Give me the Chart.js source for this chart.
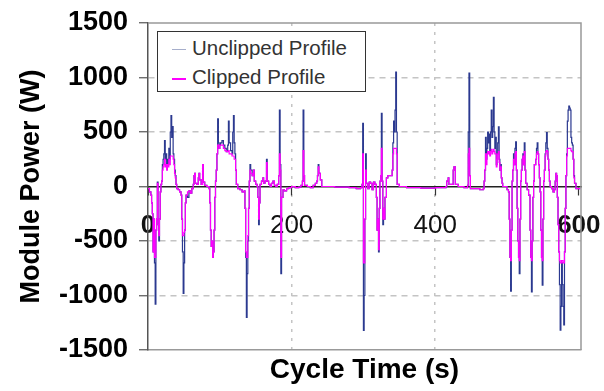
<!DOCTYPE html>
<html>
<head>
<meta charset="utf-8">
<script src="https://cdn.jsdelivr.net/npm/chart.js@4.4.1/dist/chart.umd.min.js"></script>
<style>
  body { margin: 0; background: #fff; }
  #wrap { position: relative; width: 604px; height: 391px; }
  #legend {
    position: absolute; left: 157px; top: 31px; width: 209px; height: 61px;
    box-sizing: border-box; border: 1.5px solid #333; background: #fff;
    padding-top: 1px;
    font: 20.5px "Liberation Sans", Arial, sans-serif; color: #333;
  }
  #legend .row { height: 29px; line-height: 29px; white-space: nowrap; }
  #legend .swatch {
    display: inline-block; width: 14px; vertical-align: middle;
    margin-left: 14px; margin-right: 6px;
  }
</style>
</head>
<body>
<div id="wrap">
  <canvas id="powerChart" width="604" height="391"></canvas>
  <div id="legend"></div>
</div>
<script>
// 時間 (s) 與模組功率 (W)：未削峰 / 削峰後
const timeS = [
  0, 2, 4, 5, 6, 7, 8, 9, 10, 11, 12, 13, 14, 15, 16, 17, 18, 19, 20, 21, 22, 23, 24, 25, 26, 27, 28, 29, 30, 31, 32, 33, 34, 35, 36, 37, 38, 39,
  40, 42, 44, 46, 47, 48, 49, 50, 51, 52, 53, 55, 57, 59, 61, 63, 64, 65, 66, 68, 70, 71, 72, 74, 76, 77, 79, 82, 85, 86, 87, 88, 89, 90, 91, 92, 93, 94, 95, 96, 97, 98, 99,
  100, 101, 103, 105, 107, 109, 111, 112, 113, 115, 117, 118, 119, 120, 121, 122, 123, 125, 128, 131, 134, 135, 136, 137, 138, 139, 140, 141, 142, 143, 145, 147, 148, 150, 152, 153, 154, 155, 156, 158, 160, 161, 163, 165, 166, 168, 170, 172, 174, 176, 178, 180, 182, 183, 184, 185, 186, 188, 190, 193, 196,
  200, 205, 210, 213, 215, 216, 217, 218, 222, 226, 230, 233, 235, 236, 237, 238, 240, 242, 260, 280, 290, 296, 298, 299,
  300, 301, 302, 303, 304, 306, 308, 310, 312, 314, 316, 318, 319, 320, 321, 322, 323, 324, 325, 326, 327, 328, 329, 330, 332, 334, 338, 340, 341, 342, 343, 344, 345, 346, 347, 350, 360, 380,
  400, 415, 416, 418, 419, 424, 425, 426, 428, 432, 440, 445, 446, 447, 448, 449, 455, 462, 467, 468, 469, 470, 471, 472, 473, 474, 475, 476, 477, 478, 479, 480, 481, 482, 483, 484, 485, 486, 487, 488, 489, 490, 491, 492, 493, 494,
  500, 502, 503, 504, 505, 506, 507, 508, 509, 510, 511, 512, 513, 514, 515, 516, 517, 518, 519, 520, 521, 522, 523, 524, 525, 526, 528, 530, 532,
  533, 534, 535, 536, 537, 538, 540, 541, 542, 543, 544, 545, 546, 547, 548, 549, 550, 551, 552, 553, 554, 555, 556, 557, 558, 559, 560, 562, 564, 566,
  567, 568, 569, 570, 571, 572, 573, 574, 575, 576, 577, 578, 579, 580, 581, 582, 583, 584, 585, 586, 587, 588, 589, 590, 591, 592, 593, 594, 596, 600, 602
];

const unclippedW = [
  -20, -50, -80, -150, -250, -600, -300, -700, -1080, -400, -300, 40, -350, -500, -300, -50, 20, 50, 200, 250, 300, 420, 250, 300, 200, 250, 200, 350, 250, 500, 650, 450, 550, 300, 250, 150, 100, 20,
  -20, -30, -50, -80, -300, -600, -980, -700, -400, -150, -80, -100, -40, -60, -20, 20, 100, 120, 30, 20, 80, 120, 60, 20, 200, 40, 10, 0, -20, -150, -400, -550, -500, -650, -600, -400, -100, 50, 150, 300, 620, 400, 350,
  380, 400, 420, 380, 350, 320, 380, 600, 400, 330, 300, 500, 650, 400, 300, 150, 20, -20, -30, -50, -40, -200, -650, -1200, -800, -500, -200, 50, 200, 150, 100, 150, 50, 20, 0, -100, -350, -150, 20, 50, 80, 30, 50, 250, 50, 20, 0, 30, 50, 10, 0, 20, 100, 700, 200, -800, -100, -30, -40, -20, -10,
  0, -10, -5, 10, 50, 700, 100, 10, 0, -10, 10, 30, 50, 100, 200, 120, 60, 0, -5, -10, -20, -10, 20, 580,
  -1320, -1000, -300, 300, 30, -20, 40, 30, -30, 40, 20, -100, -400, -300, -600, -200, 50, 100, 670, 50, -350, -200, -300, -100, 80, 100, 100, 150, 400, 600, 500, 700, 1050, 500, 20, 0, -10, -15,
  -10, 0, 50, 80, 20, 20, 150, 180, 20, 0, -10, 10, 500, 1040, 100, -20, -20, -30, -20, 50, 150, 450, 250, 350, 500, 400, 480, 300, 500, 700, 450, 550, 817, 500, 350, 450, 200, 300, 400, 547, 250, 150, 200, 80, 30, 0,
  -30, -50, -300, -650, -960, -400, 50, 150, 300, 200, 350, 410, 150, -200, -500, -650, -800, -300, 50, 150, 250, 300, 200, 400, 150, 30, -30, -80, -400,
  -650, -966, -500, -100, 50, 200, 250, 350, 400, 300, 200, 80, -50, -400, -650, -904, -300, 50, 150, 300, 400, 494, 350, 250, 150, 50, 0, -20, -50, -30,
  50, 120, 100, -100, -350, -600, -900, -1317, -1100, -700, -900, -1100, -1270, -600, -200, 100, 300, 600, 700, 738, 720, 700, 450, 400, 380, 250, 100, 30, -20, -20, -20
];

const clippedW = [
  -20, -50, -80, -150, -250, -600, -300, -650, -650, -400, -300, 30, -350, -450, -300, -50, 20, 50, 150, 180, 200, 250, 180, 200, 150, 200, 180, 250, 200, 280, 280, 280, 280, 250, 200, 120, 80, 20,
  -20, -30, -50, -80, -300, -450, -450, -420, -400, -150, -80, -50, -40, -60, -20, 20, 100, 120, 30, 20, 80, 120, 60, 20, 200, 40, 10, 0, -20, -150, -400, -550, -500, -650, -600, -400, -100, 50, 150, 300, 380, 380, 350,
  380, 380, 380, 350, 330, 320, 320, 330, 300, 300, 280, 280, 280, 250, 250, 150, 20, -20, -30, -50, -40, -200, -600, -650, -650, -450, -200, 50, 150, 120, 100, 150, 50, 20, 0, -100, -300, -150, 20, 50, 80, 30, 50, 220, 50, 20, 0, 30, 50, 10, 0, 20, 100, 300, 150, -650, -100, -30, -40, -20, -10,
  0, -10, -5, 10, 50, 330, 100, 10, 0, -10, 10, 30, 50, 100, 180, 120, 60, 0, -5, -10, -20, -10, 20, 300,
  -700, -700, -300, 150, 30, -20, 40, 30, -30, 40, 20, -100, -400, -300, -580, -200, 50, 100, 350, 50, -300, -200, -300, -100, 80, 100, 100, 150, 300, 350, 350, 350, 350, 300, 20, 0, -10, -15,
  -10, 0, 50, 80, 20, 20, 150, 180, 20, 0, -10, 10, 300, 350, 100, -20, -20, -30, -20, 50, 150, 300, 200, 300, 320, 300, 320, 280, 320, 340, 300, 320, 340, 320, 300, 300, 180, 250, 300, 320, 220, 150, 180, 80, 30, 0,
  -30, -50, -300, -650, -680, -400, 50, 150, 250, 200, 300, 320, 150, -200, -500, -650, -680, -300, 50, 150, 250, 280, 200, 320, 150, 30, -30, -80, -400,
  -650, -680, -500, -100, 50, 200, 250, 300, 320, 300, 200, 80, -50, -400, -650, -680, -300, 50, 150, 280, 320, 330, 320, 250, 150, 50, 0, -20, -50, -30,
  50, 120, 100, -100, -350, -600, -680, -700, -700, -680, -680, -700, -700, -600, -200, 100, 280, 350, 350, 350, 350, 350, 330, 320, 320, 250, 80, 30, -20, -20, -20
];

// 座標軸範圍與刻度
const timeRange = [0, 603];
const timeTicks = [0, 200, 400, 600];
const powerRange = [-1500, 1500];
const powerTicks = [-1500, -1000, -500, 0, 500, 1000, 1500];
const FONT = '"Liberation Sans", Arial, sans-serif';

function toPoints(values) {
  return timeS.map((t, i) => ({ x: t, y: values[i] }));
}

function fixedTicks(values) {
  return scale => { scale.ticks = values.map(v => ({ value: v })); };
}

// 固定軸的尺寸，標籤外溢不再擠壓繪圖區
function fixedSize(w, h) {
  return s => {
    if (w !== null) s.width = w;
    if (h !== null) s.height = h;
    s.paddingLeft = s.paddingRight = s.paddingTop = s.paddingBottom = 0;
  };
}

// 外框的上、右兩邊
const framePlugin = {
  id: 'frame',
  afterDraw(chart) {
    const { ctx, chartArea: a } = chart;
    ctx.save();
    ctx.strokeStyle = '#999';
    ctx.lineWidth = 1.5;
    ctx.beginPath();
    ctx.moveTo(a.left, a.top);
    ctx.lineTo(a.right, a.top);
    ctx.lineTo(a.right, a.bottom);
    ctx.stroke();
    ctx.restore();
  }
};

const ctx = document.getElementById('powerChart').getContext('2d');
const powerChart = new Chart(ctx, {
  type: 'line',
  data: {
    datasets: [
      {
        label: 'Unclipped Profile',
        data: toPoints(unclippedW),
        borderColor: '#2b3990',
        legendColor: '#a6aecb',
        borderWidth: 1.2,
        pointRadius: 0,
        stepped: true,
        order: 2,
      },
      {
        label: 'Clipped Profile',
        data: toPoints(clippedW),
        borderColor: '#ff00ff',
        legendColor: '#ff00ff',
        borderWidth: 1.2,
        pointRadius: 0,
        stepped: true,
        order: 1,
      },
    ],
  },
  options: {
    responsive: false,
    animation: false,
    layout: { padding: { left: 11, top: 23, right: 23, bottom: 0 } },
    plugins: { legend: { display: false }, tooltip: { enabled: false } },
    scales: {
      x: {
        type: 'linear',
        min: timeRange[0], max: timeRange[1],
        afterBuildTicks: fixedTicks(timeTicks),
        ticks: { display: false },
        grid: {
          color: c => (c.tick.value === 200 || c.tick.value === 400) ? '#c4c4c4' : 'rgba(0,0,0,0)',
          lineWidth: 1.5,
          drawTicks: false,
        },
        border: { color: '#999', width: 1.5, dash: [3, 6] },
        title: {
          display: true, text: 'Cycle Time (s)', color: '#000',
          font: { family: FONT, size: 28, weight: 'bold' },
          padding: { top: 0, bottom: 4 },
        },
        afterFit: fixedSize(null, 41),
      },
      // 0 W 基準線，x 軸刻度標在此線下方
      xZero: {
        type: 'linear',
        position: { y: 0 },
        min: timeRange[0], max: timeRange[1],
        afterBuildTicks: fixedTicks(timeTicks),
        ticks: {
          padding: 16, color: '#111',
          callback: v => String(v),
          font: c => ({
            family: FONT, size: 26,
            weight: (c.tick && (c.tick.value === 0 || c.tick.value === 600)) ? 'bold' : 'normal',
          }),
        },
        grid: { drawOnChartArea: false, tickLength: 8, tickColor: '#333', tickWidth: 1.2 },
        border: { color: '#222', width: 1.5 },
        afterFit: fixedSize(null, 0),
      },
      y: {
        min: powerRange[0], max: powerRange[1],
        afterBuildTicks: fixedTicks(powerTicks),
        ticks: {
          padding: 11, color: '#000',
          callback: v => String(v),
          font: { family: FONT, size: 27, weight: 'bold' },
        },
        grid: {
          color: c => [500, 1000, -500, -1000].includes(c.tick.value) ? '#c4c4c4' : 'rgba(0,0,0,0)',
          lineWidth: 1.5,
          tickLength: 9,
          tickColor: '#555',
          tickWidth: 1.2,
        },
        border: { color: '#555', width: 1.5, dash: [6, 5] },
        title: {
          display: true, text: 'Module Power (W)', color: '#000',
          font: { family: FONT, size: 27, weight: 'bold' },
          padding: { top: 4, bottom: 0 },
        },
        afterFit: fixedSize(137, null),
      },
    },
  },
  plugins: [framePlugin],
});

// 圖例
const legendBox = document.getElementById('legend');
powerChart.data.datasets.forEach(ds => {
  const row = document.createElement('div');
  row.className = 'row';
  const swatch = document.createElement('span');
  swatch.className = 'swatch';
  swatch.style.height = ds.order === 1 ? '2px' : '1.5px';
  swatch.style.background = ds.legendColor;
  row.appendChild(swatch);
  row.appendChild(document.createTextNode(ds.label));
  legendBox.appendChild(row);
});
</script>
</body>
</html>
